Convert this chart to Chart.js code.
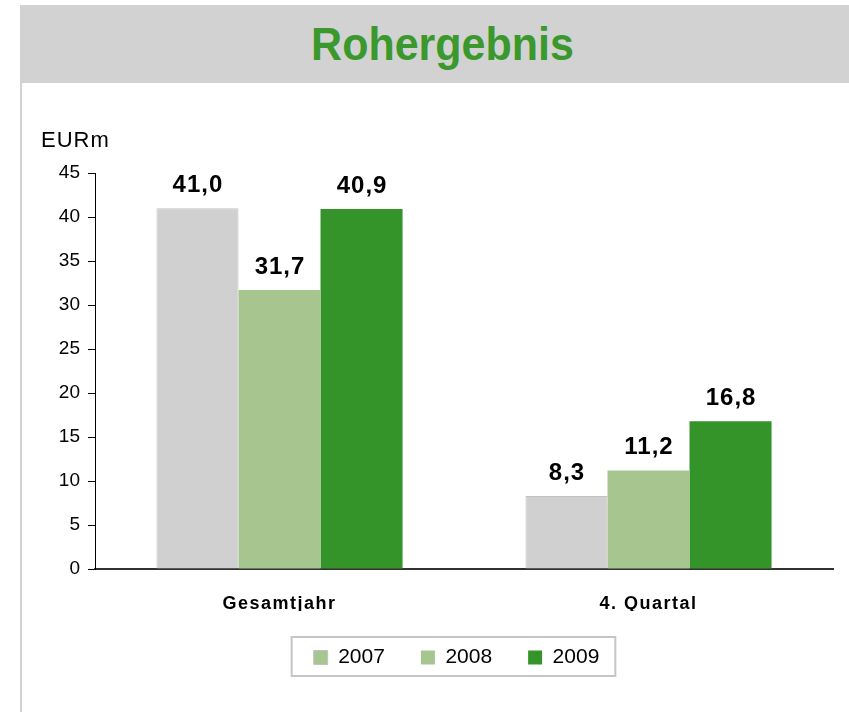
<!DOCTYPE html>
<html>
<head>
<meta charset="utf-8">
<script src="https://cdn.jsdelivr.net/npm/chart.js@4.4.0/dist/chart.umd.min.js"></script>
<style>
  html, body { margin: 0; padding: 0; background: #fff; }
  #wrap { position: relative; width: 849px; height: 712px; overflow: hidden; font-family: "Liberation Sans", Arial, sans-serif; }
  #header { position: absolute; left: 20px; top: 5px; width: 813px; padding-left: 16px; height: 78px; background: #d2d2d2;
            color: #3a982c; font-weight: bold; font-size: 43px; text-align: center; line-height: 78px; }
  #header span { display: inline-block; transform: scaleY(1.06); }
  #border { position: absolute; left: 20px; top: 83px; width: 2px; height: 629px; background: #d2d2d2; }
  #chartBox { position: absolute; left: 0; top: 83px; width: 849px; height: 629px; }
</style>
</head>
<body>
<div id="wrap">
  <div id="header"><span>Rohergebnis</span></div>
  <div id="border"></div>
  <div id="chartBox"><canvas id="rohChart"></canvas></div>
</div>
<script>
// Daten
const categories = ['Gesamtjahr', '4. Quartal'];
const years = ['2007', '2008', '2009'];
const values2007 = [41.0, 8.3];
const values2008 = [31.7, 11.2];
const values2009 = [40.9, 16.8];
const yTicks = [0, 5, 10, 15, 20, 25, 30, 35, 40, 45];
const unitLabel = 'EURm';

const colors = ['#d0d0d0', '#a6c58f', '#359429'];
const fontFamily = '"Liberation Sans", Arial, sans-serif';
const fmt = v => v.toFixed(1).replace('.', ',');

// Beschriftungen über den Balken + Einheit
const valueLabels = {
  id: 'valueLabels',
  afterDatasetsDraw(chart) {
    const ctx = chart.ctx;
    ctx.save();
    ctx.font = 'bold 24px ' + fontFamily;
    ctx.fillStyle = '#000';
    ctx.textAlign = 'center';
    ctx.textBaseline = 'alphabetic';
    ctx.letterSpacing = '1px';
    chart.data.datasets.forEach((ds, di) => {
      chart.getDatasetMeta(di).data.forEach((bar, i) => {
        ctx.fillText(fmt(ds.data[i]), bar.x + 0.5, bar.y - 16);
      });
    });
    ctx.restore();

    ctx.save();
    ctx.font = '22px ' + fontFamily;
    ctx.letterSpacing = '1px';
    ctx.fillStyle = '#000';
    ctx.textAlign = 'left';
    ctx.textBaseline = 'alphabetic';
    ctx.fillText(unitLabel, 41, chart.chartArea.top - 26);
    ctx.restore();
  }
};

// Legende etwas nach rechts schieben (wie im Original) und einrahmen
const legendFrame = {
  id: 'legendFrame',
  afterLayout(chart) {
    const lg = chart.legend;
    lg.left += 40;
    lg.right += 40;
  },
  afterDraw(chart) {
    const boxes = chart.legend.legendHitBoxes;
    if (!boxes || !boxes.length) return;
    const left = Math.min(...boxes.map(b => b.left)) - 22;
    const right = Math.max(...boxes.map(b => b.left + b.width)) + 16;
    const top = boxes[0].top - 10;
    const bottom = boxes[0].top + boxes[0].height + 8;
    const ctx = chart.ctx;
    ctx.save();
    ctx.strokeStyle = '#c6c6c6';
    ctx.lineWidth = 2;
    ctx.strokeRect(left, top, right - left, bottom - top);
    ctx.restore();
  }
};

const ctx = document.getElementById('rohChart').getContext('2d');
const rohChart = new Chart(ctx, {
  type: 'bar',
  data: {
    labels: categories,
    datasets: [
      { label: years[0], data: values2007, backgroundColor: colors[0], borderColor: '#c2c2c2', borderWidth: 1 },
      { label: years[1], data: values2008, backgroundColor: colors[1], borderWidth: 0 },
      { label: years[2], data: values2009, backgroundColor: colors[2], borderWidth: 0 }
    ]
  },
  options: {
    responsive: true,
    maintainAspectRatio: false,
    animation: false,
    barPercentage: 1.0,
    categoryPercentage: 0.667,
    layout: { padding: { left: 0, right: 16, top: 90, bottom: 34 } },
    plugins: {
      legend: {
        position: 'bottom',
        labels: {
          boxWidth: 14,
          boxHeight: 14,
          padding: 36,
          color: '#000',
          font: { family: fontFamily, size: 21 },
          generateLabels(chart) {
            return chart.data.datasets.map((ds, i) => ({
              text: ds.label,
              // im Original hat das Feld für 2007 eine grüne Füllung
              fillStyle: i === 0 ? colors[1] : ds.backgroundColor,
              strokeStyle: i === 0 ? '#c2c2c2' : ds.backgroundColor,
              lineWidth: i === 0 ? 1 : 0,
              datasetIndex: i,
              hidden: false
            }));
          }
        }
      },
      tooltip: { enabled: false }
    },
    scales: {
      x: {
        grid: { display: false, drawTicks: false },
        border: { display: true, color: '#333', width: 2 },
        ticks: {
          color: '#000',
          padding: 24,
          font: { family: fontFamily, size: 18, weight: 'bold' }
        },
        afterFit(scale) {
          scale.height = 42;
          if (!scale._spaced) {
            const orig = scale.drawLabels.bind(scale);
            scale.drawLabels = function (area) {
              this.ctx.save();
              this.ctx.letterSpacing = '1.5px';
              orig(area);
              this.ctx.restore();
            };
            scale._spaced = true;
          }
        }
      },
      y: {
        min: 0,
        max: 45,
        afterBuildTicks(scale) { scale.ticks = yTicks.map(v => ({ value: v })); },
        grid: { drawOnChartArea: false, drawTicks: true, tickLength: 7, color: '#000' },
        border: { display: true, color: '#000', width: 1 },
        ticks: {
          color: '#000',
          padding: 8,
          font: { family: fontFamily, size: 19 }
        },
        afterFit(scale) { scale.width = 95; }
      }
    }
  },
  plugins: [valueLabels, legendFrame]
});
</script>
</body>
</html>
